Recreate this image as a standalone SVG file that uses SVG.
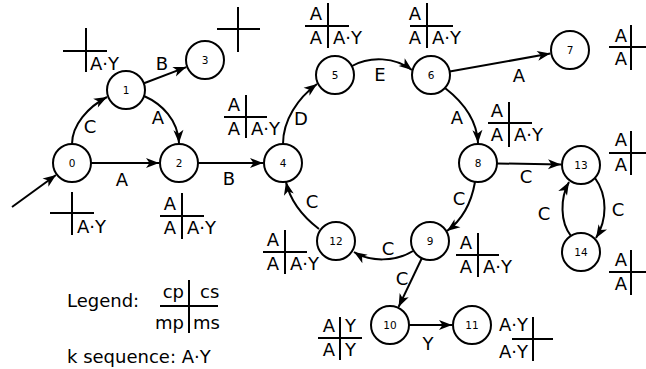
<svg xmlns="http://www.w3.org/2000/svg" width="646" height="369" viewBox="0 0 646 369">
<style>
  text { font-family: "DejaVu Sans", "Liberation Sans", sans-serif; fill: #000; }
  .lbl { font-size: 18px; text-anchor: middle; }
  .nl { font-size: 10.5px; text-anchor: middle; }
  .t { font-size: 18px; }
  .e { text-anchor: end; }
  .node circle { fill: #fff; stroke: #000; stroke-width: 2; }
  .edge { fill: none; stroke: #000; stroke-width: 2; marker-end: url(#arr); }
  .tab line { stroke: #000; stroke-width: 2; }
</style>
<defs>
  <marker id="arr" markerUnits="userSpaceOnUse" markerWidth="14" markerHeight="12" refX="13" refY="5" orient="auto" overflow="visible">
    <path d="M0,0 L13,5 L0,10 L3.5,5 Z" fill="#000"/>
  </marker>
</defs>
<rect width="646" height="369" fill="#fff"/>

<g id="connectors">
  <line class="edge" x1="12" y1="207" x2="56" y2="175"/>
  <path class="edge" d="M72,144 C72,125 88,107 107,97"/>
  <line class="edge" x1="91" y1="163" x2="159" y2="163"/>
  <line class="edge" x1="144" y1="83.3" x2="186.3" y2="67.1"/>
  <path class="edge" d="M144,96 C162,104 178,120 179,143"/>
  <line class="edge" x1="198" y1="163" x2="263" y2="163"/>
  <path class="edge" d="M283,144 C283,120 298,98 317,84"/>
  <path class="edge" d="M352,66 C370,56 395,57 412,70"/>
  <line class="edge" x1="449.7" y1="71.6" x2="550.3" y2="53.5"/>
  <path class="edge" d="M445,88 C463,102 477,120 478,143"/>
  <line class="edge" x1="497" y1="163.4" x2="561" y2="164.6"/>
  <path class="edge" d="M475,182 C471,205 462,220 447,231"/>
  <path class="edge" d="M595,178 C608,196 607,220 596,238"/>
  <path class="edge" d="M571,236 C560,222 560,198 569,182"/>
  <path class="edge" d="M413,251 C395,262 370,262 354,252"/>
  <path class="edge" d="M319,229 C302,216 290,200 286,182"/>
  <line class="edge" x1="421.8" y1="258.2" x2="398.6" y2="306.9"/>
  <line class="edge" x1="409" y1="325" x2="452" y2="325"/>

  <text class="lbl" x="90" y="133">C</text>
  <text class="lbl" x="122" y="186">A</text>
  <text class="lbl" x="162" y="70">B</text>
  <text class="lbl" x="158" y="124">A</text>
  <text class="lbl" x="229" y="185">B</text>
  <text class="lbl" x="301" y="125">D</text>
  <text class="lbl" x="380" y="81">E</text>
  <text class="lbl" x="519" y="82">A</text>
  <text class="lbl" x="457" y="124">A</text>
  <text class="lbl" x="526" y="183">C</text>
  <text class="lbl" x="459" y="205">C</text>
  <text class="lbl" x="544" y="220">C</text>
  <text class="lbl" x="618" y="216">C</text>
  <text class="lbl" x="312" y="208">C</text>
  <text class="lbl" x="388" y="255">C</text>
  <text class="lbl" x="402" y="285">C</text>
  <text class="lbl" x="428" y="350">Y</text>
</g>

<g id="n0" class="node"><circle cx="72" cy="163" r="19"/><text class="nl" x="72" y="167">0</text></g>
<g id="n1" class="node"><circle cx="126" cy="90" r="19"/><text class="nl" x="126" y="94">1</text></g>
<g id="n2" class="node"><circle cx="179" cy="163" r="19"/><text class="nl" x="179" y="167">2</text></g>
<g id="n3" class="node"><circle cx="205" cy="60" r="19"/><text class="nl" x="205" y="64">3</text></g>
<g id="n4" class="node"><circle cx="283" cy="163" r="19"/><text class="nl" x="283" y="167">4</text></g>
<g id="n5" class="node"><circle cx="335" cy="75" r="19"/><text class="nl" x="335" y="79">5</text></g>
<g id="n6" class="node"><circle cx="431" cy="75" r="19"/><text class="nl" x="431" y="79">6</text></g>
<g id="n7" class="node"><circle cx="570" cy="50" r="19"/><text class="nl" x="570" y="54">7</text></g>
<g id="n8" class="node"><circle cx="478" cy="163" r="19"/><text class="nl" x="478" y="167">8</text></g>
<g id="n9" class="node"><circle cx="430" cy="241" r="19"/><text class="nl" x="430" y="245">9</text></g>
<g id="n10" class="node"><circle cx="390" cy="325" r="19"/><text class="nl" x="390" y="329">10</text></g>
<g id="n11" class="node"><circle cx="472" cy="325" r="19"/><text class="nl" x="472" y="329">11</text></g>
<g id="n12" class="node"><circle cx="336" cy="241" r="19"/><text class="nl" x="336" y="245">12</text></g>
<g id="n13" class="node"><circle cx="581" cy="165" r="19"/><text class="nl" x="581" y="169">13</text></g>
<g id="n14" class="node"><circle cx="581" cy="252" r="19"/><text class="nl" x="581" y="256">14</text></g>

<g id="t0" class="tab"><line x1="50" y1="213" x2="94" y2="213"/><line x1="72" y1="192" x2="72" y2="235"/><text class="t" x="77" y="233">A·Y</text></g>
<g id="t1" class="tab"><line x1="63" y1="51" x2="107" y2="51"/><line x1="86" y1="28" x2="86" y2="72"/><text class="t" x="90" y="70">A·Y</text></g>
<g id="t3" class="tab"><line x1="217" y1="29" x2="260" y2="29"/><line x1="238" y1="7" x2="238" y2="52"/></g>
<g id="t2" class="tab"><line x1="160" y1="216" x2="204" y2="216"/><line x1="182" y1="193" x2="182" y2="239"/><text class="t e" x="176" y="210">A</text><text class="t e" x="176" y="234">A</text><text class="t" x="187" y="234">A·Y</text></g>
<g id="t4" class="tab"><line x1="224" y1="117" x2="267" y2="117"/><line x1="246" y1="95" x2="246" y2="138"/><text class="t e" x="240" y="111">A</text><text class="t e" x="240" y="135">A</text><text class="t" x="251" y="135">A·Y</text></g>
<g id="t5" class="tab"><line x1="305" y1="26" x2="349" y2="26"/><line x1="328" y1="3" x2="328" y2="48"/><text class="t e" x="322" y="20">A</text><text class="t e" x="322" y="44">A</text><text class="t" x="333" y="44">A·Y</text></g>
<g id="t6" class="tab"><line x1="410" y1="26" x2="453" y2="26"/><line x1="427" y1="3" x2="427" y2="48"/><text class="t e" x="421" y="20">A</text><text class="t e" x="421" y="44">A</text><text class="t" x="432" y="44">A·Y</text></g>
<g id="t7" class="tab"><line x1="609" y1="47" x2="646" y2="47"/><line x1="631" y1="25" x2="631" y2="70"/><text class="t e" x="627" y="42">A</text><text class="t e" x="627" y="65">A</text></g>
<g id="t8" class="tab"><line x1="488" y1="123" x2="532" y2="123"/><line x1="509" y1="102" x2="509" y2="147"/><text class="t e" x="503" y="117">A</text><text class="t e" x="503" y="141">A</text><text class="t" x="514" y="141">A·Y</text></g>
<g id="t13" class="tab"><line x1="609" y1="153" x2="646" y2="153"/><line x1="631" y1="131" x2="631" y2="175"/><text class="t e" x="627" y="146">A</text><text class="t e" x="627" y="171">A</text></g>
<g id="t14" class="tab"><line x1="609" y1="272" x2="646" y2="272"/><line x1="631" y1="250" x2="631" y2="295"/><text class="t e" x="627" y="266">A</text><text class="t e" x="627" y="290">A</text></g>
<g id="t12" class="tab"><line x1="263" y1="252" x2="307" y2="252"/><line x1="285" y1="230" x2="285" y2="274"/><text class="t e" x="279" y="246">A</text><text class="t e" x="279" y="270">A</text><text class="t" x="290" y="270">A·Y</text></g>
<g id="t9" class="tab"><line x1="456" y1="255" x2="499" y2="255"/><line x1="478" y1="233" x2="478" y2="277"/><text class="t e" x="472" y="249">A</text><text class="t e" x="472" y="273">A</text><text class="t" x="483" y="273">A·Y</text></g>
<g id="t10" class="tab"><line x1="318" y1="338" x2="362" y2="338"/><line x1="340" y1="317" x2="340" y2="360"/><text class="t e" x="335" y="332">A</text><text class="t" x="345" y="332">Y</text><text class="t e" x="335" y="356">A</text><text class="t" x="345" y="356">Y</text></g>
<g id="t11" class="tab"><line x1="512" y1="339" x2="553" y2="339"/><line x1="533" y1="317" x2="533" y2="361"/><text class="t e" x="528" y="331">A·Y</text><text class="t e" x="528" y="358">A·Y</text></g>

<g id="legend" class="tab">
  <text class="t" x="67" y="307">Legend:</text>
  <line x1="160" y1="306" x2="218" y2="306"/><line x1="189" y1="280" x2="189" y2="333"/>
  <text class="t e" x="184" y="298">cp</text><text class="t" x="200" y="298">cs</text>
  <text class="t e" x="184" y="329">mp</text><text class="t" x="193" y="329">ms</text>
  <text class="t" x="67" y="363">k sequence: A·Y</text>
</g>
</svg>
